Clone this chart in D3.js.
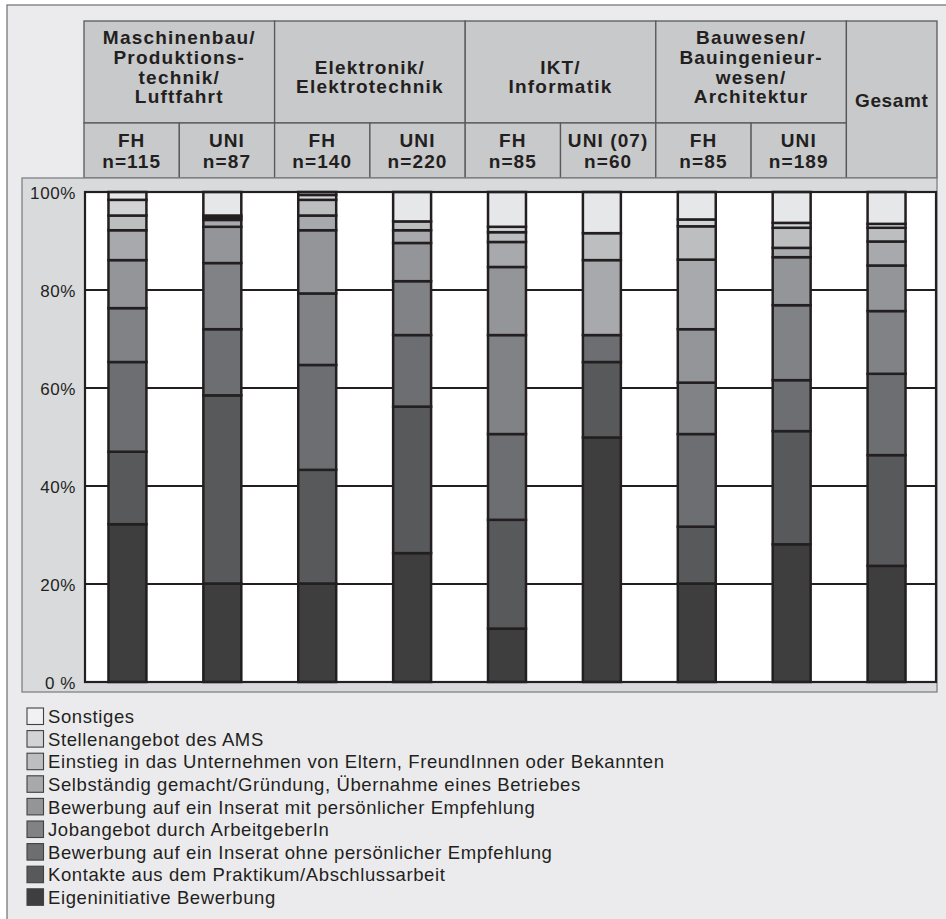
<!DOCTYPE html>
<html><head><meta charset="utf-8">
<script src="https://cdn.jsdelivr.net/npm/d3@7"></script>
<style>
html,body{margin:0;padding:0;background:#fff;}
svg{display:block;font-family:"Liberation Sans",Arial,sans-serif;}
</style></head>
<body>
<svg id="c" width="946" height="919"></svg>
<script>
// ---------- DATA ----------
const columns = ["M_FH","M_UNI","E_FH","E_UNI","I_FH","I_UNI","B_FH","B_UNI","Gesamt"];
const groupLabels = [
  {lines:["Maschinenbau/","Produktions-","technik/","Luftfahrt"], from:0, to:1},
  {lines:["Elektronik/","Elektrotechnik"], from:2, to:3},
  {lines:["IKT/","Informatik"], from:4, to:5},
  {lines:["Bauwesen/","Bauingenieur-","wesen/","Architektur"], from:6, to:7}
];
const typeLabels = ["FH","UNI","FH","UNI","FH","UNI (07)","FH","UNI"];
const nLabels = ["n=115","n=87","n=140","n=220","n=85","n=60","n=85","n=189"];
const totalLabel = "Gesamt";

const categories = [
  "Eigeninitiative Bewerbung",
  "Kontakte aus dem Praktikum/Abschlussarbeit",
  "Bewerbung auf ein Inserat ohne persönlicher Empfehlung",
  "Jobangebot durch ArbeitgeberIn",
  "Bewerbung auf ein Inserat mit persönlicher Empfehlung",
  "Selbständig gemacht/Gründung, Übernahme eines Betriebes",
  "Einstieg in das Unternehmen von Eltern, FreundInnen oder Bekannten",
  "Stellenangebot des AMS",
  "Sonstiges"
];
const eigeninitiative = [32.2, 20.1, 20.1, 26.3, 10.9, 49.9, 20.1, 28.1, 23.7];
const kontakte        = [14.8, 38.4, 23.2, 29.9, 22.2, 15.4, 11.6, 23.1, 22.6];
const ohneEmpfehlung  = [18.3, 13.5, 21.4, 14.6, 17.5,  5.5, 18.9, 10.4, 16.6];
const jobangebot      = [11.0, 13.5, 14.6, 11.0, 20.2,  0.0, 10.5, 15.3, 12.8];
const mitEmpfehlung   = [ 9.8,  7.4, 12.9,  7.8, 13.9,  0.0, 10.9,  9.8,  9.3];
const selbstaendig    = [ 6.1,  1.4,  3.0,  2.6,  5.1, 15.3, 14.2,  1.9,  4.9];
const einstieg        = [ 3.0,  0.5,  3.2,  1.8,  2.0,  5.5,  6.8,  4.1,  2.8];
const ams             = [ 3.2,  0.4,  1.0,  0.0,  1.1,  0.0,  1.4,  1.0,  0.8];
const sonstiges       = [ 1.6,  4.8,  0.6,  6.0,  7.1,  8.4,  5.6,  6.3,  6.5];
const seriesValues = [eigeninitiative,kontakte,ohneEmpfehlung,jobangebot,mitEmpfehlung,selbstaendig,einstieg,ams,sonstiges];
const colors = ["#3e3e3f","#58595b","#6d6e71","#808285","#939598","#a7a9ac","#bcbec0","#d1d3d4","#e6e7e8"];
const yTicks = [0,20,40,60,80,100];
const yTickLabels = ["0 %","20%","40%","60%","80%","100%"];

// ---------- DRAW ----------
const svg = d3.select("#c");
const ink = "#231f20";

// outer frame
svg.append("rect").attr("x",7).attr("y",5).attr("width",946).attr("height",930)
  .attr("fill","#ebebed").attr("stroke","#6d6e71").attr("stroke-width",1.2);

// header columns
const hx = d3.scaleBand().domain(columns).range([84, 84+9*95.3]);
const headerRight = 937;
const colL = i => hx(columns[i]);
const colR = i => Math.min(hx(columns[i]) + hx.bandwidth(), headerRight);
const r1Top = 21, r1Bot = 123, r2Bot = 178;

const head = svg.append("g");
const cellStyle = sel => sel.attr("fill","#c8c9cb").attr("stroke","#58595b").attr("stroke-width",1.3);
groupLabels.forEach(g => {
  head.append("rect").attr("x",colL(g.from)).attr("y",r1Top)
    .attr("width",colR(g.to)-colL(g.from)).attr("height",r1Bot-r1Top).call(cellStyle);
  const n = g.lines.length;
  const base = n === 4 ? 44 : 73.5;
  const t = head.append("text").attr("text-anchor","middle")
    .attr("font-size",19).attr("font-weight","bold").attr("letter-spacing","1.2px").attr("fill",ink);
  g.lines.forEach((l,i) => {
    t.append("tspan").attr("x",(colL(g.from)+colR(g.to))/2).attr("y",base+i*19.8).text(l);
  });
});
typeLabels.forEach((tl,i) => {
  head.append("rect").attr("x",colL(i)).attr("y",r1Bot)
    .attr("width",colR(i)-colL(i)).attr("height",r2Bot-r1Bot).call(cellStyle);
  const cx = (colL(i)+colR(i))/2;
  const t = head.append("text").attr("text-anchor","middle")
    .attr("font-size",19).attr("font-weight","bold").attr("letter-spacing","1.1px").attr("fill",ink);
  t.append("tspan").attr("x",cx).attr("y",147).text(tl);
  t.append("tspan").attr("x",cx).attr("y",167.5).text(nLabels[i]);
});
head.append("rect").attr("x",colL(8)).attr("y",r1Top)
  .attr("width",colR(8)-colL(8)).attr("height",r2Bot-r1Top).call(cellStyle);
head.append("text").attr("text-anchor","middle").attr("x",(colL(8)+colR(8))/2).attr("y",107)
  .attr("font-size",19).attr("font-weight","bold").attr("letter-spacing","0.6px").attr("fill",ink).text(totalLabel);

// plot panel
const plot = {left:85, right:936, top:192, bottom:682};
svg.append("rect").attr("x",22).attr("y",r2Bot).attr("width",headerRight-22).attr("height",692-r2Bot)
  .attr("fill","#d9dadc").attr("stroke","#808285").attr("stroke-width",1.3);
svg.append("rect").attr("x",plot.left).attr("y",plot.top)
  .attr("width",plot.right-plot.left).attr("height",plot.bottom-plot.top).attr("fill","#ffffff");

const y = d3.scaleLinear().domain([0,100]).range([plot.bottom, plot.top]);
const x = d3.scaleBand().domain(columns).range([80, 934]).paddingInner(0.6).paddingOuter(0.3);

// gridlines
svg.append("g").selectAll("line").data(yTicks.filter(v=>v>0 && v<100)).join("line")
  .attr("x1",plot.left).attr("x2",plot.right).attr("y1",d=>y(d)).attr("y2",d=>y(d))
  .attr("stroke",ink).attr("stroke-width",2.2);

// y axis labels
const yAxis = d3.axisLeft(y).tickValues(yTicks).tickSize(0).tickPadding(0)
  .tickFormat((d,i)=>yTickLabels[i]);
const ya = svg.append("g").attr("transform","translate(76,0)").call(yAxis);
ya.select(".domain").remove();
ya.selectAll("text").attr("font-size",17).attr("letter-spacing","0.6px").attr("fill",ink)
  .attr("font-family","'Liberation Sans',Arial,sans-serif").attr("dy","0.36em");

// stacked bars
const table = columns.map((c,i) => {
  const o = {col:c};
  categories.forEach((k,j) => o[k] = seriesValues[j][i]);
  return o;
});
const stack = d3.stack().keys(categories)(table);
const bars = svg.append("g");
stack.forEach((s,j) => {
  bars.append("g").attr("fill",colors[j]).selectAll("rect")
    .data(s.filter(d => d[1]-d[0] > 0)).join("rect")
    .attr("x",d=>x(d.data.col)).attr("width",x.bandwidth())
    .attr("y",d=>y(d[1])).attr("height",d=>y(d[0])-y(d[1]))
    .attr("stroke",ink).attr("stroke-width",2.5);
});

// plot border
svg.append("rect").attr("x",plot.left).attr("y",plot.top)
  .attr("width",plot.right-plot.left).attr("height",plot.bottom-plot.top)
  .attr("fill","none").attr("stroke",ink).attr("stroke-width",2.2);

// legend (top: Sonstiges)
const legendOrder = categories.map((c,j)=>({c, color:colors[j]})).reverse();
const lg = svg.append("g");
legendOrder.forEach((d,i) => {
  const cy = 716.5 + i*22.6;
  lg.append("rect").attr("x",27).attr("y",cy-8.5).attr("width",16.5).attr("height",16.5)
    .attr("fill", i===0 ? "#f1f1f2" : d.color).attr("stroke","#414042").attr("stroke-width",1.1);
  lg.append("text").attr("x",48).attr("y",cy+6.6).attr("font-size",18.5)
    .attr("letter-spacing","0.6px").attr("fill",ink).text(d.c);
});
</script>
</body></html>
